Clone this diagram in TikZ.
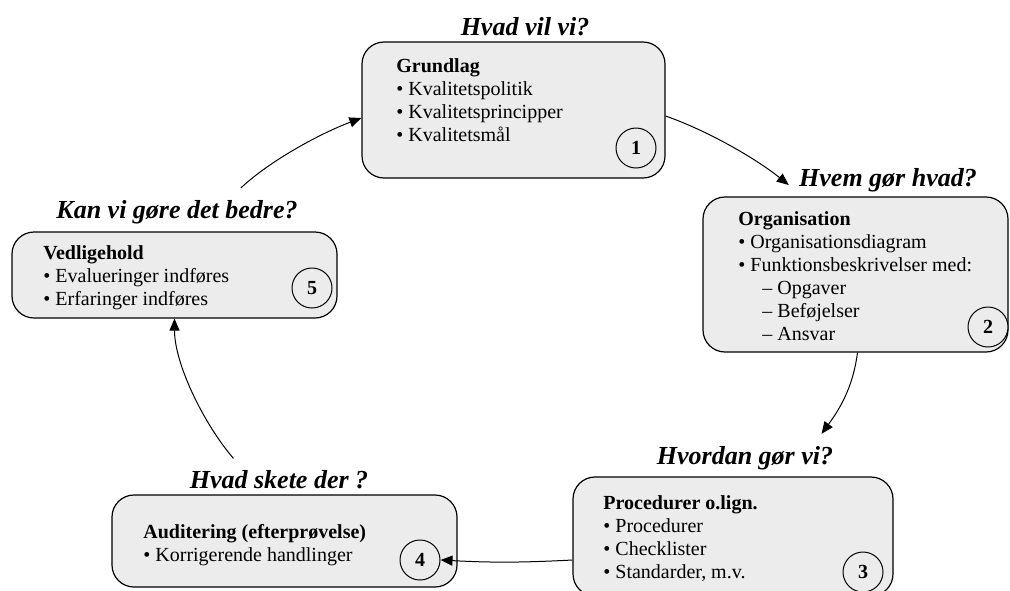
\documentclass[tikz,border=0pt]{standalone}
\usepackage{fontspec}
\setmainfont{Liberation Serif}
\usetikzlibrary{arrows.meta,fit}
\begin{document}
\begin{tikzpicture}[x=0.5pt, y=-0.5pt,
    box/.style={draw, fill=gray!15, rounded corners=11pt, inner sep=0pt, line width=0.6pt},
    num/.style={circle, draw, fill=gray!15, minimum size=20pt, inner sep=0pt, line width=0.5pt, font=\fontsize{10}{12}\selectfont\bfseries},
    head/.style={inner sep=0pt, font=\fontsize{13}{15}\selectfont\bfseries\itshape},
    txt/.style={anchor=north west, align=left, inner sep=0pt, font=\fontsize{10}{11.5}\selectfont},
    arr/.style={-{Triangle[length=6pt,width=5pt]}, line width=0.5pt}]
        \clip (0,0) rectangle (1010,590);
        \foreach \i/\xa/\ya/\xb/\yb in {1/362/42/665/178, 2/703/197/1008/352, 3/573/477/893/596, 4/112/495/457/587, 5/12/232/337/318} {
            \node[box, fit={(\xa,\ya) (\xb,\yb)}] (b\i) {};
        }
        \node[head] (t1) at (525,27) {Hvad vil vi?};
        \node[head] (t2) at (888,180) {Hvem gør hvad?};
        \node[head] (t3) at (745,458) {Hvordan gør vi?};
        \node[head] (t4) at (279,480) {Hvad skete der ?};
        \node[head] (t5) at (177,212) {Kan vi gøre det bedre?};
        \foreach \i/\x/\y in {1/636/148, 2/988/327, 3/863/572, 4/420/560, 5/312/288} {
            \node[num] (c\i) at (\x,\y) {\i};
        }
        \node[txt] (l1) at (396,58) {\textbf{Grundlag}\\• Kvalitetspolitik\\• Kvalitetsprincipper\\• Kvalitetsmål};
        \node[txt] (l2) at (738,211) {\textbf{Organisation}\\• Organisationsdiagram\\• Funktionsbeskrivelser med:\\\hspace*{12pt}– Opgaver\\\hspace*{12pt}– Beføjelser\\\hspace*{12pt}– Ansvar};
        \node[txt] (l3) at (603,495) {\textbf{Procedurer o.lign.}\\• Procedurer\\• Checklister\\• Standarder, m.v.};
        \node[txt] (l4) at (143,524) {\textbf{Auditering (efterprøvelse)}\\• Korrigerende handlinger};
        \node[txt] (l5) at (43,245) {\textbf{Vedligehold}\\• Evalueringer indføres\\• Erfaringer indføres};
        \draw[arr] ([yshift=-3pt]b1.east) .. controls +(40,14) and +(-35,-28) .. ([shift={(-5pt,-2.5pt)}]t2.west);
        \draw[arr] ([xshift=1pt]b2.south) .. controls +(-4,30) and +(22,-30) .. ([shift={(-6pt,6pt)}]t3.north east);
        \draw[arr] (c4.east -| b3.west) to[bend left=3] (c4.east);
        \draw[arr] ([shift={(22pt,6pt)}]t4.north west) .. controls +(-30,-35) and +(0,45) .. (b5.south);
        \draw[arr] ([shift={(32pt,6pt)}]t5.north) .. controls +(30,-28) and +(-40,15) .. ([yshift=-4pt]b1.west);
\end{tikzpicture}
\end{document}
